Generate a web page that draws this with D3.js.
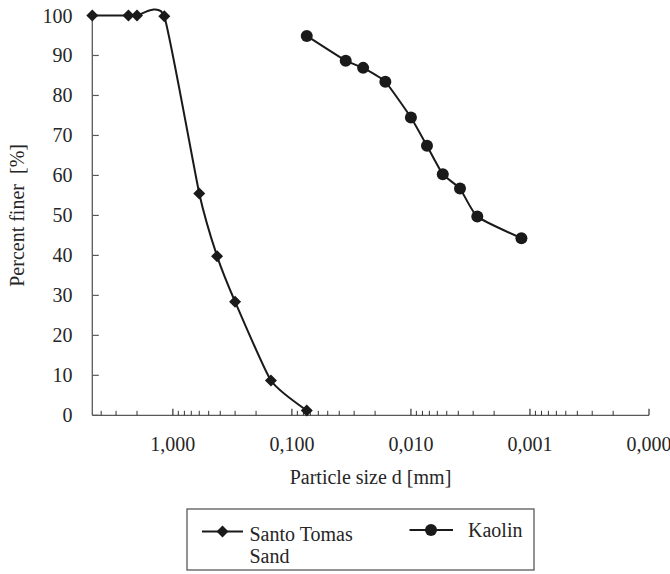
<!DOCTYPE html>
<html>
<head>
<meta charset="utf-8">
<script src="https://cdn.jsdelivr.net/npm/d3@7"></script>
<style>
  html, body { margin: 0; padding: 0; background: #fff; }
  svg { display: block; }
</style>
</head>
<body>
<svg id="chart" width="670" height="574"></svg>
<script>
// ---- data ----
const sandSize   = [4.75, 2.36, 2.0, 1.18, 0.6, 0.425, 0.3, 0.15, 0.075];
const sandPct    = [100, 100, 100, 99.8, 55.5, 39.8, 28.4, 8.7, 1.2];
const kaolinSize = [0.075, 0.0353, 0.0252, 0.0164, 0.0100, 0.00733, 0.0054, 0.00387, 0.00277, 0.00118];
const kaolinPct  = [94.9, 88.7, 86.9, 83.4, 74.5, 67.4, 60.3, 56.7, 49.7, 44.3];
const xMajorTicks  = [1, 0.1, 0.01, 0.001, 0.0001];
const xMajorLabels = ["1,000", "0,100", "0,010", "0,001", "0,000"];
const yTicks = [0, 10, 20, 30, 40, 50, 60, 70, 80, 90, 100];
const seriesNames = ["Santo Tomas\nSand", "Kaolin"];
const xTitle = "Particle size d [mm]";
const yTitle = "Percent finer  [%]";

// ---- layout ----
const FONT = "'Liberation Serif'";
const svg = d3.select("#chart");
const x = d3.scaleLog().domain([4.75, 0.0001]).range([92.3, 649]);
const y = d3.scaleLinear().domain([0, 100]).range([415.3, 15.5]);
const axisColor = "#595959";
const textColor = "#262626";

function txt(sel) {
  return sel.style("font-family", FONT).attr("font-size", 20).attr("fill", textColor);
}

// minor ticks
const minorTicks = [];
for (let e = 0; e >= -4; e--) {
  for (let k = 2; k <= 9; k++) {
    const v = k * Math.pow(10, e);
    if (v <= 4.75 && v >= 0.0001) minorTicks.push(v);
  }
}

const g = svg.append("g");

// axis lines
g.append("line")
  .attr("x1", x.range()[0]).attr("x2", x.range()[1])
  .attr("y1", y(0)).attr("y2", y(0))
  .attr("stroke", axisColor).attr("stroke-width", 1.3);
g.append("line")
  .attr("x1", x.range()[0]).attr("x2", x.range()[0])
  .attr("y1", y(0)).attr("y2", y(100))
  .attr("stroke", axisColor).attr("stroke-width", 1.3);

// x minor ticks (inside)
g.selectAll(".xminor").data(minorTicks).enter().append("line")
  .attr("x1", d => x(d)).attr("x2", d => x(d))
  .attr("y1", y(0)).attr("y2", y(0) - 4.5)
  .attr("stroke", "#333").attr("stroke-width", 1);
// x major ticks
g.selectAll(".xmajor").data(xMajorTicks).enter().append("line")
  .attr("x1", d => x(d)).attr("x2", d => x(d))
  .attr("y1", y(0)).attr("y2", y(0) - 6.5)
  .attr("stroke", "#333").attr("stroke-width", 1.2);
// x labels
txt(g.selectAll(".xlab").data(xMajorTicks).enter().append("text"))
  .attr("x", d => x(d)).attr("y", 451)
  .attr("text-anchor", "middle")
  .text((d, i) => xMajorLabels[i]);

// y ticks (inside)
g.selectAll(".ytick").data(yTicks).enter().append("line")
  .attr("x1", x.range()[0]).attr("x2", x.range()[0] + 6.5)
  .attr("y1", d => y(d)).attr("y2", d => y(d))
  .attr("stroke", axisColor).attr("stroke-width", 1.2);
txt(g.selectAll(".ylab").data(yTicks).enter().append("text"))
  .attr("x", 72.5).attr("y", d => y(d) + 7)
  .attr("text-anchor", "end")
  .text(d => d);

// titles
txt(g.append("text")).attr("x", 370.5).attr("y", 484)
  .attr("text-anchor", "middle").text(xTitle);
txt(g.append("text"))
  .attr("transform", `translate(24,${(y(0) + y(100)) / 2}) rotate(-90)`)
  .attr("text-anchor", "middle")
  .style("white-space", "pre")
  .text(yTitle);

// series
const lineColor = "#1a1a1a";
const sandData = sandSize.map((s, i) => [s, sandPct[i]]);
const kaolinData = kaolinSize.map((s, i) => [s, kaolinPct[i]]);
const lineGen = d3.line().x(d => x(d[0])).y(d => y(d[1])).curve(d3.curveCardinal.tension(0.5));

g.append("path").datum(sandData).attr("d", lineGen)
  .attr("fill", "none").attr("stroke", lineColor).attr("stroke-width", 2);
g.append("path").datum(kaolinData).attr("d", lineGen)
  .attr("fill", "none").attr("stroke", lineColor).attr("stroke-width", 2);

const diamond = d3.symbol().type(d3.symbolSquare).size(72);
g.selectAll(".sandpt").data(sandData).enter().append("path")
  .attr("d", diamond)
  .attr("transform", d => `translate(${x(d[0])},${y(d[1])}) rotate(45)`)
  .attr("fill", lineColor);
g.selectAll(".kaopt").data(kaolinData).enter().append("circle")
  .attr("cx", d => x(d[0])).attr("cy", d => y(d[1])).attr("r", 6)
  .attr("fill", lineColor);

// legend
const lg = svg.append("g");
lg.append("rect").attr("x", 187).attr("y", 509).attr("width", 347).attr("height", 61)
  .attr("fill", "#fff").attr("stroke", "#595959").attr("stroke-width", 1.3);
// sand entry
lg.append("line").attr("x1", 202).attr("x2", 243).attr("y1", 531.5).attr("y2", 531.5)
  .attr("stroke", lineColor).attr("stroke-width", 2);
lg.append("path").attr("d", diamond)
  .attr("transform", "translate(222.5,531.5) rotate(45)").attr("fill", lineColor);
seriesNames[0].split("\n").forEach((t, i) => {
  txt(lg.append("text")).attr("x", 249.5).attr("y", 541 + i * 22).text(t);
});
// kaolin entry
lg.append("line").attr("x1", 409.5).attr("x2", 453).attr("y1", 530).attr("y2", 530)
  .attr("stroke", lineColor).attr("stroke-width", 2);
lg.append("circle").attr("cx", 431).attr("cy", 530).attr("r", 6).attr("fill", lineColor);
txt(lg.append("text")).attr("x", 468).attr("y", 536.5).text(seriesNames[1]);
</script>
</body>
</html>
